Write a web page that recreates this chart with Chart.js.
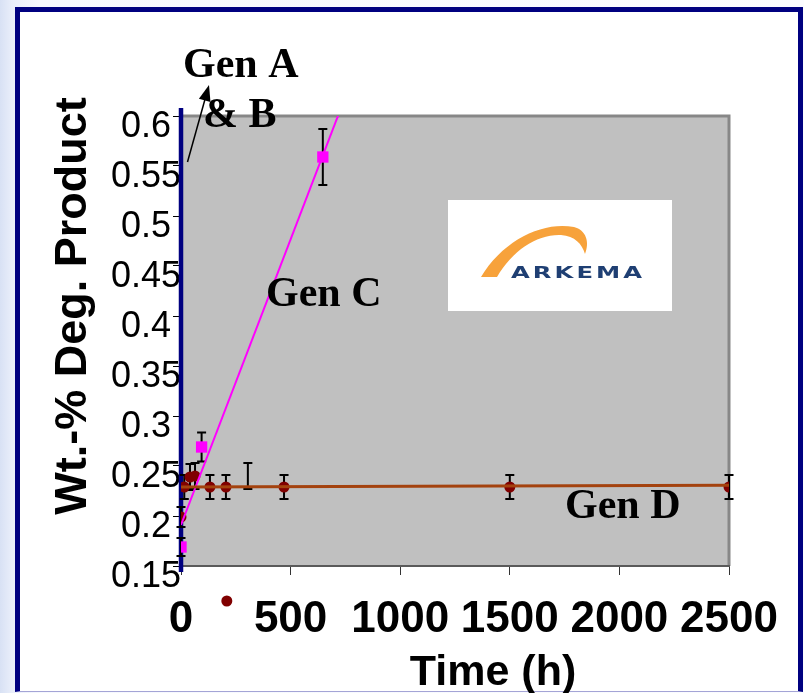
<!DOCTYPE html>
<html>
<head>
<meta charset="utf-8">
<title>Wt.-% Deg. Product vs Time</title>
<script src="https://cdn.jsdelivr.net/npm/chart.js@4/dist/chart.umd.min.js"></script>
<style>
  html, body { margin: 0; padding: 0; width: 804px; height: 693px; overflow: hidden; }
  body {
    position: relative;
    background: linear-gradient(to right, #d8e1f4 0, #e9eefa 12px, #f6f8fe 40px, #fbfcff 100%);
  }
  /* slide frame */
  #frame {
    position: absolute; left: 15px; top: 7px;
    width: 778px; height: 679px;
    background: #fff;
    border: 5px solid #000080;
    border-bottom: 1px solid #a4a4d6;
  }
  #plot { position: absolute; left: 0; top: 0; }
</style>
</head>
<body>
<div id="frame"></div>
<canvas id="plot" width="804" height="693"></canvas>
<script>
const SANS = "'Liberation Sans', Arial, sans-serif";
const SERIF = "'Liberation Serif', 'Times New Roman', serif";

// axis ticks
const xTicks = [0, 500, 1000, 1500, 2000, 2500];
const xTickLabels = ["0", "500", "1000", "1500", "2000", "2500"];
const yTicks = [0.15, 0.2, 0.25, 0.3, 0.35, 0.4, 0.45, 0.5, 0.55, 0.6];
const yTickLabels = ["0.15", "0.2", "0.25", "0.3", "0.35", "0.4", "0.45", "0.5", "0.55", "0.6"];

// Gen D measurements (time h, wt.-%, +/- error)
const genDHours  = [0, 15, 41, 64, 132, 205, 470, 1500, 2500];
const genDValues = [0.199, 0.229, 0.239, 0.240, 0.229, 0.229, 0.229, 0.229, 0.229];
const genDErrors = [0.010, 0.012, 0.013, 0.013, 0.012, 0.012, 0.012, 0.012, 0.012];

// Gen C measurements
const genCHours  = [0, 94, 647];
const genCValues = [0.169, 0.269, 0.559];
const genCErrors = [0.009, 0.0145, 0.028];

// error bar with no marker
const openHours  = [305];
const openValues = [0.240];
const openErrors = [0.013];

// marker sitting under the axis
const looseHours  = [209];
const looseValues = [0.115];

// linear fits
const genDFitHours  = [0, 2500];
const genDFitValues = [0.229, 0.2307];
const genCFitHours  = [0, 800];
const genCFitValues = [0.191, 0.648];
const genABFitHours  = [0, 0];
const genABFitValues = [0.144, 0.608];

const pts = (xs, ys) => xs.map((x, i) => ({x, y: ys[i]}));

// grey plot area with darker top/right edge
const plotArea = {
  id: "plotArea",
  beforeDraw(chart) {
    const {ctx, chartArea: a} = chart;
    ctx.save();
    ctx.fillStyle = "#c0c0c0";
    ctx.fillRect(a.left, a.top, a.right - a.left, a.bottom - a.top);
    ctx.strokeStyle = "#878787";
    ctx.lineWidth = 3;
    ctx.beginPath();
    ctx.moveTo(a.left, a.top);
    ctx.lineTo(a.right, a.top);
    ctx.lineTo(a.right, a.bottom);
    ctx.stroke();
    ctx.restore();
  }
};

// vertical error bars, drawn just under the markers of their dataset;
// points flagged drawOutside are also painted when they fall off the plot area
const errorBars = {
  id: "errorBars",
  beforeDatasetDraw(chart, args) {
    const ds = chart.data.datasets[args.index];
    if (!ds.errors) return;
    const {ctx, scales: {x, y}} = chart;
    ctx.save();
    ctx.strokeStyle = "#000";
    ctx.lineWidth = 2;
    ds.data.forEach((p, i) => {
      const px = x.getPixelForValue(p.x);
      const top = y.getPixelForValue(p.y + ds.errors[i]);
      const bot = y.getPixelForValue(p.y - ds.errors[i]);
      ctx.beginPath();
      ctx.moveTo(px, top); ctx.lineTo(px, bot);
      ctx.moveTo(px - 4.5, top); ctx.lineTo(px + 4.5, top);
      ctx.moveTo(px - 4.5, bot); ctx.lineTo(px + 4.5, bot);
      ctx.stroke();
    });
    ctx.restore();
  },
  afterDatasetDraw(chart, args) {
    const ds = chart.data.datasets[args.index];
    if (!ds.drawOutside) return;
    args.meta.data.forEach(el => el.draw(chart.ctx));
  }
};

function drawLogo(ctx) {
  ctx.save();
  ctx.fillStyle = "#fff";
  ctx.fillRect(448, 200, 224, 111);
  // orange swoosh
  ctx.fillStyle = "#f7a23b";
  ctx.beginPath();
  ctx.moveTo(481, 277);
  ctx.bezierCurveTo(503, 240, 543, 221, 574, 227);
  ctx.bezierCurveTo(586, 230, 590, 242, 585, 254);
  ctx.bezierCurveTo(582, 244, 575, 236, 561, 235);
  ctx.bezierCurveTo(537, 234, 513, 250, 497, 277);
  ctx.closePath();
  ctx.fill();
  // word mark, stretched to its box
  ctx.fillStyle = "#1f3f73";
  ctx.font = "bold 16px 'DejaVu Sans', sans-serif";
  ctx.letterSpacing = "2px";
  ctx.textBaseline = "alphabetic";
  ctx.textAlign = "left";
  const w = ctx.measureText("ARKEMA").width - 2;
  ctx.translate(511, 278);
  ctx.scale(131 / w, 1);
  ctx.fillText("ARKEMA", 0, 0);
  ctx.restore();
}

// axis titles, series labels, arrow and logo
const notes = {
  id: "notes",
  afterDraw(chart) {
    const ctx = chart.ctx;
    drawLogo(ctx);

    ctx.save();
    ctx.fillStyle = "#000";

    ctx.save();
    ctx.translate(74, 306);
    ctx.rotate(-Math.PI / 2);
    ctx.font = "bold 45px " + SANS;
    ctx.textAlign = "center";
    ctx.textBaseline = "middle";
    ctx.fillText("Wt.-% Deg. Product", 0, 0);
    ctx.restore();

    ctx.font = "bold 43px " + SANS;
    ctx.textAlign = "center";
    ctx.textBaseline = "alphabetic";
    ctx.fillText("Time (h)", 493, 685);

    ctx.font = "bold 42px " + SERIF;
    ctx.textAlign = "left";
    ctx.fillText("Gen A", 183, 77);
    ctx.fillText("& B", 203, 127);
    ctx.fillText("Gen C", 266, 306);
    ctx.fillText("Gen D", 565, 518);

    // arrow pointing at the Gen A & B line
    const x0 = 187.5, y0 = 162, x1 = 209, y1 = 85;
    const ang = Math.atan2(y1 - y0, x1 - x0);
    ctx.strokeStyle = "#000";
    ctx.lineWidth = 1.5;
    ctx.beginPath();
    ctx.moveTo(x0, y0);
    ctx.lineTo(x1 - 12 * Math.cos(ang), y1 - 12 * Math.sin(ang));
    ctx.stroke();
    ctx.beginPath();
    ctx.moveTo(x1, y1);
    ctx.lineTo(x1 - 16 * Math.cos(ang) + 6 * Math.sin(ang), y1 - 16 * Math.sin(ang) - 6 * Math.cos(ang));
    ctx.lineTo(x1 - 16 * Math.cos(ang) - 6 * Math.sin(ang), y1 - 16 * Math.sin(ang) + 6 * Math.cos(ang));
    ctx.closePath();
    ctx.fill();
    ctx.restore();
  }
};

new Chart(document.getElementById("plot"), {
  type: "scatter",
  data: {
    datasets: [
      { label: "Gen D fit", data: pts(genDFitHours, genDFitValues), showLine: true,
        borderColor: "#a4420e", borderWidth: 3, pointRadius: 0 },
      { label: "Gen C fit", data: pts(genCFitHours, genCFitValues), showLine: true,
        borderColor: "#ff00ff", borderWidth: 2, pointRadius: 0 },
      { label: "Gen D", data: pts(genDHours, genDValues), errors: genDErrors,
        pointStyle: "circle", pointRadius: 5.5, backgroundColor: "#800000", borderWidth: 0 },
      { label: "Gen C", data: pts(genCHours, genCValues), errors: genCErrors,
        pointStyle: "rect", pointRadius: 8, backgroundColor: "#ff00ff", borderWidth: 0 },
      { label: "Gen D (bar)", data: pts(openHours, openValues), errors: openErrors, pointRadius: 0 },
      { label: "Gen D (marker)", data: pts(looseHours, looseValues), clip: false, drawOutside: true,
        pointStyle: "circle", pointRadius: 5.5, backgroundColor: "#800000", borderWidth: 0 },
      { label: "Gen A & B", data: pts(genABFitHours, genABFitValues), showLine: true, clip: false,
        borderColor: "#000080", borderWidth: 4.5, pointRadius: 0 }
    ]
  },
  options: {
    responsive: false,
    animation: false,
    events: [],
    layout: { padding: { top: 116, right: 75, left: 0, bottom: 0 } },
    plugins: { legend: { display: false }, tooltip: { enabled: false } },
    scales: {
      x: {
        type: "linear", min: 0, max: 2500,
        afterBuildTicks: s => { s.ticks = xTicks.map(v => ({value: v})); },
        afterFit: s => { s.height = 127; },
        grid: { drawOnChartArea: false, drawTicks: true, tickLength: 9, color: "#333" },
        border: { color: "#5a5a5a", width: 2 },
        ticks: { autoSkip: false, maxRotation: 0, padding: 18, color: "#000",
                 font: { family: SANS, size: 44, weight: "bold" },
                 callback: (v, i) => xTickLabels[i] }
      },
      y: {
        type: "linear", min: 0.15, max: 0.6,
        afterBuildTicks: s => { s.ticks = yTicks.map(v => ({value: v})); },
        afterFit: s => { s.width = 181; },
        grid: { drawOnChartArea: false, drawTicks: true, tickLength: 8, color: "#000" },
        border: { color: "#808080", width: 1 },
        ticks: { autoSkip: false, crossAlign: "center", padding: -8, labelOffset: 11, color: "#000",
                 font: { family: SANS, size: 36 },
                 callback: (v, i) => yTickLabels[i] }
      }
    }
  },
  plugins: [plotArea, errorBars, notes]
});
</script>
</body>
</html>
